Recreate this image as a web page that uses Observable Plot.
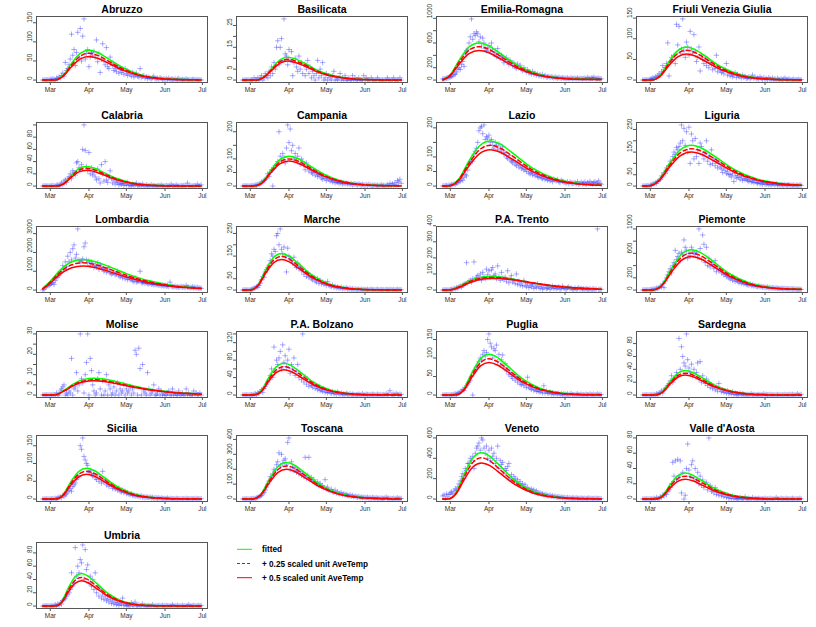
<!DOCTYPE html>
<html><head><meta charset="utf-8">
<script src="https://cdn.jsdelivr.net/npm/d3@7"></script>
<script src="https://cdn.jsdelivr.net/npm/@observablehq/plot@0.6"></script>
<style>
body{margin:0;background:#fff;}
#wrap{position:relative;width:816px;height:627px;overflow:hidden;font-family:"Liberation Sans",Arial,sans-serif;background:#fff;}
.panel{position:absolute;}
#legend{position:absolute;left:230px;top:540px;}
</style></head><body><div id="wrap"></div>
<script>
const regions = ["Abruzzo","Basilicata","Emilia-Romagna","Friuli Venezia Giulia","Calabria","Campania","Lazio","Liguria","Lombardia","Marche","P.A. Trento","Piemonte","Molise","P.A. Bolzano","Puglia","Sardegna","Sicilia","Toscana","Veneto","Valle d'Aosta","Umbria"];

const monthTicks = ["2020-03-01","2020-04-01","2020-05-01","2020-06-01","2020-07-01"];
const monthLabels = ["Mar","Apr","May","Jun","Jul"];

const yTicks = [
[0,50,100,150],[0,5,10,15,20,25],[0,200,400,600,800,1000],[0,50,100,150],
[0,20,40,60,80,100],[0,50,100,150,200],[0,50,100,150,200],[0,50,100,150,200,250],
[0,1000,2000,3000],[0,50,100,150,200,250],[0,100,200,300,400],[0,200,400,600,800,1000],
[0,5,10,15,20,25,30],[0,20,40,60,80,100,120,140],[0,50,100,150],[0,20,40,60,80],
[0,50,100,150],[0,100,200,300,400],[0,200,400,600],[0,20,40,60,80],
[0,20,40,60,80]];
const yLabels = [
[0,50,100,150],[0,5,15,25],[0,200,600,1000],[0,50,100,150],
[0,20,40,60,80],[0,50,100,200],[0,50,100,200],[0,50,150,250],
[0,1000,2000,3000],[0,50,150,250],[0,100,200,300,400],[0,200,600,1000],
[0,5,10,20,30],[0,40,80,120],[0,50,100,150],[0,20,40,60,80],
[0,50,100,150],[0,100,200,300,400],[0,200,400,600],[0,20,40,60,80],
[0,20,40,60,80]];

// daily new cases, 24 Feb 2020 .. 30 Jun 2020 (128 days)
const cases = [
[0,0,0,0,1,0,2, 1,3,2,0,5,4,8, 6,12,18,10,46,25,30, 40,55,120,65,80,38,72, 125,60,135,50,115,160,55, 70,80,35,60,72,65,75, 60,105,48,70,20,55,95, 50,40,85,35,30,60,45, 38,25,30,22,35,18,28, 20,25,15,30,18,12,22, 15,10,20,8,12,18,10, 8,30,6,10,12,5,9, 4,8,5,3,6,10,4, 3,5,2,6,4,1,3, 2,4,1,5,0,3,2, 1,3,0,2,4,1,0, 2,0,1,3,0,1,0, 0,1,2,0,1,0,0, 1,0],
[0,0,0,0,0,0,0, 0,0,1,0,0,1,0, 1,2,0,1,3,2,1, 4,2,6,3,8,5,15, 18,7,15,19,9,28,12, 11,7,14,9,13,2,8, 10,6,4,11,5,8,3, 7,2,5,9,3,6,1, 4,2,0,3,9,1,5, 2,8,0,1,3,0,2, 1,0,2,4,0,1,0, 1,3,0,1,0,2,0, 0,1,0,0,2,0,1, 0,0,1,0,0,0,2, 0,1,0,0,0,1,0, 0,0,0,1,0,0,0, 0,0,0,0,1,0,0, 0,0,1,0,0,0,0, 1,0],
[18,20,25,30,35,40,50, 60,70,90,100,130,180,200, 170,250,300,220,420,480,500, 600,700,990,660,750,720,780, 750,620,700,550,680,600,510, 480,520,560,460,600,500,420, 450,380,510,430,350,400,380, 280,330,360,300,250,320,270, 230,280,210,190,260,200,240, 180,150,200,160,130,170,120, 120,100,140,90,110,80,100, 70,85,60,90,55,75,50, 50,60,40,55,45,35,50, 40,30,45,35,25,40,30, 30,25,35,20,28,32,22, 25,30,20,35,18,28,24, 20,26,30,18,40,25,22, 35,28,45,30,20,25,30, 18,20],
[0,0,0,0,0,1,2, 3,5,4,8,6,10,15, 12,20,35,25,30,40,90, 10,45,55,50,60,40,135, 85,130,65,75,148,70,55, 92,80,60,118,75,65,110, 70,45,55,80,22,60,50, 40,55,35,48,30,42,38, 25,35,28,60,20,30,24, 18,22,15,25,40,12,20, 10,15,8,12,18,6,14, 8,10,5,12,6,9,4, 5,8,3,6,12,4,7, 3,5,2,8,4,1,6, 2,4,1,6,3,0,5, 1,3,0,4,2,1,3, 0,2,5,1,0,3,1, 0,1,2,0,1,0,2, 0,1],
[0,0,0,0,0,0,0, 0,1,0,0,1,2,0, 3,5,2,8,10,6,12, 15,20,12,25,22,18,38, 40,30,28,35,60,100,58, 32,25,55,20,30,18,22, 15,10,28,12,5,35,20, 8,40,10,6,15,25,12, 5,10,3,8,6,2,4, 3,5,1,4,2,6,1, 2,0,3,1,2,5,0, 1,2,0,3,1,0,2, 0,1,0,2,0,1,0, 0,0,1,0,2,0,0, 0,1,0,0,0,3,0, 0,0,2,0,0,0,1, 0,1,0,0,5,0,0, 0,0,0,1,0,3,0, 0,2],
[0,0,0,0,0,0,0, 0,2,1,4,3,6,5, 10,15,12,20,25,30,45, 35,50,60,0,65,75,80, 90,200,110,95,120,105,85, 140,225,160,210,130,150,100, 120,95,110,140,80,100,90, 75,60,85,70,55,65,50, 45,55,40,50,35,42,38, 30,25,35,28,20,32,25, 18,22,15,20,12,16,14, 12,10,15,8,12,9,11, 8,10,6,9,5,7,8, 6,4,8,5,3,6,4, 3,5,2,6,4,1,3, 2,4,1,3,0,2,5, 1,3,0,2,5,1,10, 3,8,2,12,5,20,15, 25,10],
[0,0,1,2,0,3,2, 5,4,8,6,10,12,15, 18,25,20,30,40,35,55, 75,80,90,85,110,120,130, 150,190,200,205,180,210,160, 170,165,175,150,160,140,130, 150,140,125,145,130,120,135, 110,115,100,95,105,90,85, 80,88,75,70,82,65,72, 60,65,55,58,50,62,45, 42,48,38,45,35,40,32, 30,35,28,25,32,22,27, 20,25,18,22,15,24,20, 18,22,15,12,20,16,14, 12,10,15,8,14,11,9, 10,12,8,15,6,9,13, 8,10,14,6,12,9,16, 10,7,12,15,8,11,18, 9,6],
[0,0,0,0,2,0,5, 3,8,10,15,12,20,25, 30,45,40,60,55,80,70, 90,110,100,130,150,140,170, 160,175,190,270,200,255,180, 240,150,260,100,230,200,120, 210,130,160,100,190,175,140, 120,150,200,110,130,95,160, 100,120,90,110,80,105,85, 75,60,80,70,55,65,50, 50,40,55,20,45,35,48, 38,30,42,25,35,28,32, 25,20,28,18,22,15,24, 15,12,18,10,14,8,16, 10,8,12,6,9,5,11, 8,5,10,4,7,3,6, 5,3,7,2,4,6,3, 3,2,5,1,4,3,2, 5,3],
[0,50,150,200,230,250,300, 350,400,300,500,650,700,800, 900,1000,1300,1100,1500,1250,1800, 1500,2000,1600,2200,2400,1700,1900, 3250,1600,1500,1550,1650,2300,2500, 1600,1450,1550,1300,1500,1400,1200, 1300,1250,1450,1100,1350,1200,1150, 1000,1100,950,1050,1200,900,850, 900,950,800,850,1000,750,700, 800,650,750,600,700,550,680, 550,600,500,450,650,420,480, 450,1000,400,380,420,350,400, 350,320,380,300,340,280,310, 280,300,250,270,230,260,220, 250,200,230,180,420,210,190, 170,200,150,180,140,160,190, 150,170,130,250,140,160,120, 130,180,110,150,100,140,90, 120,80],
[0,0,0,0,0,0,0, 2,5,8,10,15,12,20, 30,45,60,55,80,90,100, 110,130,160,150,180,170,240, 250,200,270,180,160,190,150, 80,185,150,140,130,120,145, 110,100,120,95,105,85,90, 70,80,60,75,55,65,50, 45,55,40,35,50,30,42, 28,35,25,30,20,38,22, 18,15,22,12,16,10,14, 10,8,12,6,9,5,11, 5,4,7,3,6,2,5, 3,2,5,1,4,0,3, 2,1,3,0,2,4,1, 1,0,2,3,0,1,2, 0,1,0,2,1,0,3, 1,0,2,0,1,3,0, 2,1],
[0,0,0,0,0,0,2, 5,3,10,8,15,12,20, 25,18,30,35,40,170,45, 55,60,50,70,175,65,80, 90,75,100,60,110,85,70, 130,95,120,80,125,140,90, 100,70,150,85,60,110,75, 65,80,55,120,45,70,90, 50,60,40,100,35,55,30, 45,25,60,30,20,40,15, 30,20,35,10,25,15,40, 20,10,25,5,15,30,8, 12,20,5,15,25,10,18, 8,15,20,5,10,25,12, 10,5,15,20,8,12,6, 5,12,3,8,15,6,10, 4,8,2,10,5,3,7, 2,5,8,3,6,380,4, 3,5],
[0,0,0,0,2,0,5, 8,10,20,15,30,25,40, 60,50,100,40,150,200,250, 300,350,280,400,450,650,500, 550,600,480,620,580,820,700, 650,520,600,560,700,640,600, 580,620,540,1000,680,500,900, 750,450,700,400,520,380,460, 420,350,480,300,380,320,340, 280,300,250,260,220,240,200, 180,200,160,190,140,170,150, 120,140,110,130,100,115,90, 90,80,100,70,85,65,75, 60,55,70,50,58,45,52, 45,40,50,35,42,30,38, 32,28,35,25,30,22,27, 24,20,26,18,22,16,20, 18,15,20,12,16,10,14, 12,10],
[0,0,0,0,0,0,0, 0,0,0,0,1,0,0, 2,3,4,5,0,1,0, 2,1,18,0,3,4,11, 2,5,30,8,6,1,10, 16,30,0,18,12,5,2, 0,1,8,11,3,0,7, 0,2,10,0,5,3,0, 1,4,0,2,6,0,3, 1,2,5,0,3,1,2, 4,0,3,1,22,20,0, 23,13,0,15,2,1,0, 11,3,0,1,2,5,0, 0,1,3,0,2,0,1, 0,0,1,2,0,0,3, 0,1,0,0,2,0,0, 1,0,0,3,0,1,0, 0,0,2,0,1,0,0, 1,0],
[0,0,0,0,0,0,0, 1,0,2,3,1,5,4, 8,12,6,15,20,25,30, 35,45,60,40,110,55,80, 70,85,100,60,115,75,90, 65,80,105,50,70,60,85, 45,55,70,40,50,35,140, 30,42,25,35,20,28,22, 18,25,15,20,12,16,10, 12,8,14,6,10,5,9, 6,4,8,3,5,2,7, 4,2,5,1,3,0,4, 2,1,3,0,2,1,0, 1,0,2,1,0,3,0, 0,2,1,0,1,0,2, 1,0,0,2,0,1,0, 0,1,0,3,0,2,10, 1,0,2,0,4,1,0, 2,1],
[0,0,0,0,0,0,0, 0,1,2,3,2,5,6, 8,10,15,12,20,25,30, 35,40,50,0,60,65,75, 80,90,100,95,110,120,105, 115,150,165,140,130,100,125, 120,135,90,110,80,95,108, 75,85,65,70,55,60,50, 45,55,40,50,35,42,30, 28,35,25,30,20,48,22, 18,15,22,12,16,10,14, 10,8,12,6,25,5,11, 6,5,8,3,6,2,5, 4,3,5,1,4,0,3, 2,1,3,0,2,4,1, 1,0,2,3,0,1,2, 0,1,0,2,1,0,3, 1,0,2,0,1,3,0, 2,1],
[0,0,0,0,0,0,0, 0,0,1,0,2,1,3, 4,6,3,8,10,12,15, 18,22,30,20,25,28,35, 30,88,40,75,60,50,45, 95,55,42,35,48,30,40, 28,35,50,25,52,20,30, 22,18,25,15,20,12,16, 10,14,8,12,6,18,9, 5,8,4,6,3,7,2, 4,2,5,1,3,0,2, 1,3,0,2,1,0,1, 0,1,0,2,0,1,0, 0,0,1,0,0,0,2, 0,1,0,0,1,0,0, 0,0,0,1,0,0,0, 0,0,1,0,0,0,1, 0,1,0,0,0,2,0, 0,1],
[0,0,0,0,0,0,0, 0,1,0,2,1,3,5, 6,4,10,8,12,15,20, 25,30,22,35,40,45,55, 60,65,150,140,172,120,110, 100,95,75,80,70,65,72, 60,55,68,50,58,45,78, 48,55,40,45,35,42,38, 30,35,28,32,25,30,22, 20,25,18,22,15,18,14, 12,15,10,12,8,10,9, 8,6,9,5,7,4,6, 5,4,6,3,5,2,4, 3,2,4,1,3,2,1, 2,1,3,0,2,1,0, 1,0,2,1,0,1,0, 0,1,0,2,0,1,0, 1,0,1,0,2,0,1, 0,1],
[0,0,0,0,0,0,0, 1,2,5,3,8,10,15, 20,25,35,45,60,80,100, 120,150,140,170,200,190,230, 250,310,220,300,240,260,270, 230,380,410,200,250,220,190, 210,180,200,170,185,160,175, 150,280,140,160,280,130,145, 120,130,110,100,115,95,105, 85,90,75,130,70,80,60, 55,65,50,45,60,40,48, 38,35,42,30,36,28,32, 25,22,28,18,24,15,20, 15,12,18,10,14,8,12, 10,8,12,6,9,5,11, 8,5,10,4,7,3,6, 5,3,7,12,4,6,3, 3,2,5,1,4,8,2, 5,3],
[30,40,0,50,20,45,60, 70,50,80,100,90,120,150, 180,220,250,200,300,280,350, 350,400,380,420,300,450,500, 520,550,480,600,580,500,450, 520,400,480,380,500,420,450, 350,400,520,300,380,340,360, 250,300,280,320,350,200,240, 180,220,200,160,190,150,170, 130,150,120,140,100,110,95, 85,100,75,90,65,80,60, 55,60,48,52,40,45,38, 35,30,38,25,32,22,28, 20,18,24,15,20,12,16, 14,10,15,8,12,6,10, 10,6,12,5,8,4,9, 7,4,8,3,6,10,5, 5,3,6,2,8,4,3, 5,2],
[0,0,0,0,0,0,0, 0,0,1,0,2,0,1, 3,2,5,4,8,6,10, 12,15,20,48,30,50,25, 52,30,50,8,35,0,5, 40,72,38,30,45,50,28, 40,25,35,20,30,18,25, 15,20,22,12,80,18,10, 12,8,15,6,10,5,9, 4,7,3,6,2,5,1, 3,1,4,0,2,1,0, 1,2,0,1,0,3,0, 0,1,0,0,2,0,1, 0,0,1,0,0,0,0, 1,0,0,0,1,0,0, 0,0,2,0,0,0,1, 0,0,0,1,0,0,0, 0,1,0,0,0,0,0, 1,0],
[0,0,0,0,0,0,0, 0,0,1,2,0,3,1, 5,3,8,10,12,15,18, 20,25,50,30,35,88,45, 60,50,70,65,92,40,85, 55,62,35,45,30,40,25, 50,20,30,15,25,12,18, 10,15,8,12,6,10,4, 8,3,6,2,5,1,4, 2,12,1,3,0,2,1, 0,5,2,0,6,1,0, 2,0,1,3,0,1,0, 0,1,0,0,2,0,0, 0,0,1,0,0,1,0, 0,1,0,0,0,0,2, 0,0,0,1,0,0,0, 1,0,0,0,0,2,0, 0,0,1,0,0,0,1, 0,1]
];

// fitted curves: knot days (days after 24 Feb 2020) and values
const knotDays = [
[0,9,16,23,30,37,44,51,65,79,93,107,121,127],
[0,11,17,24,30,36,42,49,61,74,86,99,111,127],
[0,6,13.5,21,29,37,44.5,60,75.5,91,106.5,122,127],
[0,7,14,21,28,35,42,49,63,77,91,105,119,127],
[0,11,17,23,29,35,41,47,59,71,83,95,107,127],
[0,9,16,23,30,37,44,51,65,79,93,107,121,127],
[0,4,12.5,21,29.5,38,46.5,55,72,89,106,123,127],
[0,4,12.75,21.5,30.25,39,47.75,56.5,74,91.5,109,127],
[0,5.75,14.5,23.25,32,40.75,49.5,67,84.5,102,119.5,127],
[0,6,12.25,18.5,24.75,31,37.25,43.5,56,68.5,81,93.5,106,127],
[0,5,13.25,21.5,29.75,38,46.25,54.5,71,87.5,104,120.5,127],
[0,8,15.75,23.5,31.25,39,46.75,54.5,70,85.5,101,116.5,127],
[0,9,17,25,33,41,49,57,73,89,105,121,127],
[0,9,15,21,27,33,39,45,57,69,81,93,105,127],
[0,10,16.75,23.5,30.25,37,43.75,50.5,64,77.5,91,104.5,118,127],
[0,10,16,22,28,34,40,46,58,70,82,94,106,127],
[0,10,16.25,22.5,28.75,35,41.25,47.5,60,72.5,85,97.5,110,127],
[0,8,14.75,21.5,28.25,35,41.75,48.5,62,75.5,89,102.5,116,127],
[0,4,10.75,17.5,24.25,31,37.75,44.5,58,71.5,85,98.5,112,127],
[0,10,16,22,28,34,40,46,58,70,82,94,106,127],
[0,10,15.25,20.5,25.75,31,36.25,41.5,52,62.5,73,83.5,94,115,127]];
const fitted = [
[0,0,11.5,43.7,69.7,78,72,58.7,31,13.6,5.2,1.9,0.6,0.5],
[0,0,1.55,5.88,9.38,10.5,9.69,7.91,4.18,1.83,0.7,0.25,0.08,0.03],
[3,89,336,536,600,554,452,239,104,42,20,12,10],
[0,0,11.8,44.8,71.4,80,73.8,60.2,31.8,13.9,5.4,1.9,0.6,0.4],
[0,0,4.7,17.9,28.6,32,29.5,24.1,12.7,5.6,2.1,0.8,0.3,0.05],
[0,0,16.3,61.6,98.2,110,101.5,82.8,43.8,19.1,7.4,2.6,0.9,0.7],
[0,0,22.9,86.8,138.4,155,143.1,116.7,61.7,27,10.4,3.7,3],
[0,0,26.6,100.8,160.7,180,166.1,135.5,71.6,31.3,12.1,4.3],
[74,454,1102,1502,1620,1536,1341,876,504,267,134,97],
[0,0,24,90.7,144.7,162,149.5,122,64.5,28.2,10.9,3.9,1.3,0.2],
[0,0,23.8,57.8,78.8,85,80.6,70.4,46,26.4,14,7.1,5.1],
[0,0,97.7,369.6,589.4,660,609.2,497,262.7,114.8,46,20,13],
[0,0,2.32,5.64,7.69,8.3,7.87,6.87,4.49,2.58,1.37,0.69,0.5],
[0,0,10.8,40.9,65.2,73,67.4,55,29.1,12.7,4.9,1.8,0.6,0.1],
[0,0,16.3,61.6,98.2,110,101.5,82.8,43.8,19.1,7.4,2.6,0.9,0.5],
[0,0,5.6,21.3,33.9,38,35.1,28.6,15.1,6.6,2.5,0.9,0.3,0.06],
[0,0,12.9,48.7,77.7,87,80.3,65.5,34.6,15.1,5.8,2.1,0.7,0.3],
[0,0,36.3,137.2,218.8,245,226.1,184.5,97.5,42.6,16.4,5.9,2,1],
[0,0,67.3,254.8,406.3,455,420,342.6,181.1,79.2,30.5,10.9,3.6,1.6],
[0,0,5,19,30.4,34,31.4,25.6,13.5,5.9,2.3,0.8,0.3,0.05],
[0,0,7.3,27.4,43.8,49,45.2,36.9,19.5,8.5,3.3,1.2,0.4,0.05,0]];
const plus025 = [
[0,0,10.4,39.2,62.5,70,64.6,52.7,27.9,12.2,4.7,1.7,0.6,0.4],
[0,0,1.41,5.32,8.48,9.5,8.77,7.15,3.78,1.65,0.64,0.23,0.08,0.03],
[2,80,302,482,540,498,407,215,94,36,15,10,8],
[0,0,10.7,40.3,64.3,72,66.5,54.2,28.7,12.5,4.8,1.7,0.6,0.4],
[0,0,4.3,16.2,25.9,29,26.8,21.8,11.5,5,1.9,0.7,0.2,0.04],
[0,0,14.8,56,89.3,100,92.3,75.3,39.8,17.4,6.7,2.4,0.8,0.6],
[0,0,20.7,78.4,125,140,129.2,105.4,55.7,24.4,9.4,3.4,2.8],
[0,0,24.4,92.4,147.3,165,152.3,124.2,65.7,28.7,11.1,4],
[66,406,986,1344,1450,1375,1201,784,451,239,120,87],
[0,0,21.9,82.9,132.2,148,136.6,111.4,58.9,25.8,9.9,3.6,1.2,0.2],
[0,0,20.5,52,72,78,76,68,46,26.5,14,7.2,5.2],
[0,0,89.5,338.8,540.3,605,558.4,455.6,240.8,105.3,40.5,18,12],
[0,0,2.1,5.1,6.95,7.5,7.11,6.21,4.06,2.33,1.24,0.62,0.45],
[0,0,9.6,36.4,58,65,60,48.9,25.9,11.3,4.4,1.6,0.5,0.1],
[0,0,14.5,54.9,87.5,98,90.5,73.8,39,17.1,6.6,2.4,0.8,0.5],
[0,0,5,19,30.4,34,31.4,25.6,13.5,5.9,2.3,0.8,0.3,0.05],
[0,0,11.5,43.7,69.7,78,72,58.7,31,13.6,5.2,1.9,0.6,0.2],
[0,0,32.9,124.3,198.2,222,204.9,167.2,88.4,38.6,14.9,5.3,1.8,0.9],
[0,0,59.9,226.8,361.7,405,373.8,305,161.2,70.5,27.1,9.7,3.2,1.4],
[0,0,4.4,16.8,26.8,30,27.7,22.6,11.9,5.2,2,0.7,0.2,0.05],
[0,0,6.4,24.1,38.4,43,39.7,32.4,17.1,7.5,2.9,1,0.3,0.04,0]];
const plus05 = [
[0,0,9.2,34.7,55.4,62,57.2,46.7,24.7,10.8,4.2,1.5,0.5,0.4],
[0,0,1.29,4.87,7.77,8.7,8.03,6.55,3.46,1.51,0.58,0.21,0.07,0.03],
[2,71,269,429,480,443,361,191,84,33,14,9,7],
[0,0,9.3,35.3,56.3,63,58.1,47.4,25.1,11,4.2,1.5,0.5,0.3],
[0,0,3.8,14.6,23.2,26,24,19.6,10.3,4.5,1.7,0.6,0.2,0.03],
[0,0,13.6,51.5,82.2,92,84.9,69.3,36.6,16,6.2,2.2,0.7,0.6],
[0,0,18.5,70,111.6,125,115.4,94.1,49.8,21.8,8.4,3,2.5],
[0,0,22.2,84,134,150,138.5,113,59.7,26.1,10,3.6],
[59,358,870,1187,1280,1213,1060,692,398,211,106,77],
[0,0,20,75.6,120.6,135,124.6,101.7,53.7,23.5,9,3.2,1.1,0.2],
[0,0,17,45,65,72,72,66,46,27,14.5,7.5,5.5],
[0,0,81.4,308,491.2,550,507.7,414.2,218.9,95.7,36.9,16.5,11],
[0,0,1.96,4.76,6.49,7,6.64,5.8,3.79,2.18,1.16,0.58,0.42],
[0,0,8.6,32.5,51.8,58,53.5,43.7,23.1,10.1,3.9,1.4,0.5,0.1],
[0,0,13,49.3,78.6,88,81.2,66.3,35,15.3,5.9,2.1,0.7,0.4],
[0,0,4.6,17.4,27.7,31,28.6,23.3,12.3,5.4,2.1,0.7,0.2,0.05],
[0,0,10.4,39.2,62.5,70,64.6,52.7,27.9,12.2,4.7,1.7,0.6,0.2],
[0,0,29.6,112,178.6,200,184.6,150.6,79.6,34.8,13.4,4.8,1.6,0.8],
[0,0,52.5,198.8,317,355,327.7,267.3,141.3,61.8,23.8,8.5,2.8,1.2],
[0,0,3.8,14.6,23.2,26,24,19.6,10.3,4.5,1.7,0.6,0.2,0.03],
[0,0,5.6,21.3,33.9,38,35.1,28.6,15.1,6.6,2.5,0.9,0.3,0.04,0]];

const legendLabels = ["fitted","+ 0.25 scaled unit AveTemp","+ 0.5 scaled unit AveTemp"];

const FONT = '"Liberation Sans", Arial, sans-serif';
const base = Date.UTC(2020, 1, 24);
const toDate = d => new Date(base + d * 86400000);
const xDomain = [toDate(-127 * 0.04), toDate(127 * 1.04)];
const monthDates = monthTicks.map(s => new Date(s + "T00:00:00Z"));
const rowTop = [0, 106, 210, 315, 419, 526];
const wrap = document.getElementById("wrap");
const GREEN = "#00ff00", RED = "#ff0000";

regions.forEach((name, i) => {
  const col = i % 4, row = Math.floor(i / 4);
  const pts = cases[i].map((v, d) => ({date: toDate(d), v}));
  const mk = arr => knotDays[i].map((d, j) => ({date: toDate(d), v: arr[j]}));
  const ymax = d3.max([...cases[i], ...fitted[i]]);
  const plot = Plot.plot({
    width: 210, height: 105,
    marginTop: 16, marginLeft: 36, marginRight: 3, marginBottom: 23,
    style: {background: "transparent", fontFamily: FONT, overflow: "visible"},
    x: {type: "utc", domain: xDomain},
    y: {domain: [-0.04 * ymax, 1.04 * ymax]},
    marks: [
      Plot.dot(pts, {x: "date", y: "v", symbol: "plus", r: 1.9, stroke: "#0000ff", strokeOpacity: 0.32, strokeWidth: 1}),
      Plot.line(mk(fitted[i]), {x: "date", y: "v", stroke: GREEN, strokeWidth: 1.5, curve: "monotone-x"}),
      Plot.line(mk(plus025[i]), {x: "date", y: "v", stroke: RED, strokeWidth: 1.5, strokeDasharray: "4,3", curve: "monotone-x"}),
      Plot.line(mk(plus05[i]), {x: "date", y: "v", stroke: RED, strokeWidth: 1.5, curve: "monotone-x"}),
      Plot.frame({stroke: "#555"}),
      Plot.axisX({ticks: monthDates, tickFormat: (d, k) => monthLabels[k], tickSize: 3, tickPadding: 1.5, fontSize: 6.5, label: null, stroke: "#555", fill: "#333"}),
      Plot.axisY({ticks: yTicks[i], tickFormat: () => "", tickSize: 3, label: null, stroke: "#555"}),
      Plot.text(yLabels[i], {y: d => d, text: d => String(d), frameAnchor: "left", dx: -4.5, rotate: -90, lineAnchor: "bottom", fontSize: 6.5, fill: "#333"}),
      Plot.text([name], {frameAnchor: "top", dy: -4, lineAnchor: "bottom", text: d => d, fontWeight: "bold", fontSize: 10.5, fill: "#000"})
    ]
  });
  const div = document.createElement("div");
  div.className = "panel";
  div.style.left = (200 * col) + "px";
  div.style.top = rowTop[row] + "px";
  div.appendChild(plot);
  wrap.appendChild(div);
});

// legend
const ns = "http://www.w3.org/2000/svg";
const lg = document.createElementNS(ns, "svg");
lg.setAttribute("id", "legend");
lg.setAttribute("width", 240); lg.setAttribute("height", 50);
const styles = [{c: GREEN, dash: null}, {c: RED, dash: "3,2"}, {c: RED, dash: null}];
legendLabels.forEach((t, k) => {
  const y = 9.3 + k * 14.2;
  const l = document.createElementNS(ns, "line");
  l.setAttribute("x1", 7); l.setAttribute("x2", 22); l.setAttribute("y1", y); l.setAttribute("y2", y);
  l.setAttribute("stroke", styles[k].c); l.setAttribute("stroke-width", 1);
  if (styles[k].dash) l.setAttribute("stroke-dasharray", styles[k].dash);
  lg.appendChild(l);
  const tx = document.createElementNS(ns, "text");
  tx.setAttribute("x", 32); tx.setAttribute("y", y + 3);
  tx.setAttribute("font-size", 8.2); tx.setAttribute("font-weight", "bold");
  tx.setAttribute("font-family", FONT);
  tx.textContent = t;
  lg.appendChild(tx);
});
wrap.appendChild(lg);
</script>
</body></html>
